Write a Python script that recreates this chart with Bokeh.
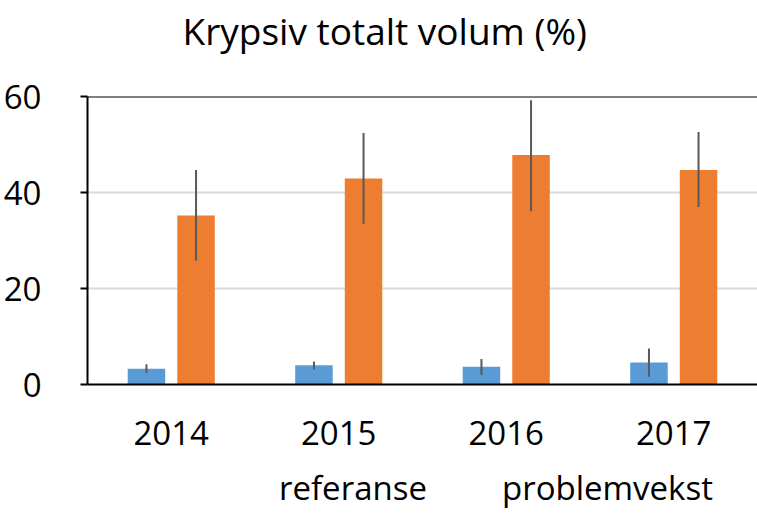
from bokeh.plotting import figure
from bokeh.layouts import column
from bokeh.models import (ColumnDataSource, FactorRange, Range1d, Legend, LegendItem, Span,
                          FixedTicker, CategoricalAxis)
from bokeh.transform import dodge
from bokeh.embed import file_html
from bokeh.resources import INLINE

years = ["2014", "2015", "2016", "2017"]
ref = [3.3, 4.0, 3.7, 4.6]
ref_lo = [2.45, 3.1, 2.0, 1.6]
ref_hi = [4.2, 4.8, 5.3, 7.5]
prob = [35.2, 42.9, 47.8, 44.7]
prob_lo = [25.8, 33.5, 36.1, 37.0]
prob_hi = [44.7, 52.4, 59.2, 52.6]
y_ticks = [0, 20, 40, 60]
series = ["referanse", "problemvekst"]
colors = ["#5B9BD5", "#ED7D31"]

FONT = "Open Sans"
FS = "33px"
src = ColumnDataSource(dict(years=years, ref=ref, ref_lo=ref_lo, ref_hi=ref_hi,
                            prob=prob, prob_lo=prob_lo, prob_hi=prob_hi))

p = figure(frame_width=670, frame_height=288, output_backend="svg", toolbar_location=None,
           x_range=FactorRange(*years, range_padding=0), y_range=Range1d(0, 60),
           min_border_left=87, min_border_right=0, min_border_top=96, min_border_bottom=86)
p.outline_line_color = None

# invisible spacer between plot area and title
spacer = CategoricalAxis(axis_line_color=None, major_tick_out=41, major_tick_in=0,
                         major_tick_line_color=None, minor_tick_line_color=None,
                         major_label_standoff=0, major_label_text_font_size="1px",
                         major_label_text_color=None, major_label_text_alpha=0,
                         major_label_overrides={y: "" for y in years})
p.add_layout(spacer, "above")

p.title.text = "Krypsiv totalt volum (%)"
p.title.text_font = FONT
p.title.text_font_size = "37px"
p.title.text_font_style = "normal"
p.title.text_color = "black"
p.title.align = "left"
p.title.offset = 95
p.title.standoff = 0

off = 0.148
bw = 0.224
p.vbar(x=dodge("years", -off, range=p.x_range), top="ref", width=bw, source=src,
       fill_color=colors[0], line_color=None)
p.vbar(x=dodge("years", off, range=p.x_range), top="prob", width=bw, source=src,
       fill_color=colors[1], line_color=None)
p.segment(x0=dodge("years", -off, range=p.x_range), x1=dodge("years", -off, range=p.x_range),
          y0="ref_lo", y1="ref_hi", source=src, line_color="#595959", line_width=2)
p.segment(x0=dodge("years", off, range=p.x_range), x1=dodge("years", off, range=p.x_range),
          y0="prob_lo", y1="prob_hi", source=src, line_color="#595959", line_width=2)

p.add_layout(Span(location=y_ticks[-1], dimension="width", line_color="black", line_width=2))

p.xgrid.grid_line_color = None
p.ygrid.grid_line_color = "#D9D9D9"
p.ygrid.grid_line_width = 2
p.yaxis.ticker = FixedTicker(ticks=y_ticks)
p.yaxis.axis_line_color = "black"
p.yaxis.axis_line_width = 2
p.yaxis.major_tick_line_color = "black"
p.yaxis.major_tick_line_width = 2
p.yaxis.major_tick_out = 7
p.yaxis.major_tick_in = 0
p.yaxis.minor_tick_line_color = None
p.yaxis.major_label_standoff = 39
p.yaxis.major_label_text_font = FONT
p.yaxis.major_label_text_font_size = FS
p.yaxis.major_label_text_color = "black"

xax = p.below[0]
xax.axis_line_color = "black"
xax.axis_line_width = 2
xax.major_tick_line_color = None
xax.major_tick_out = 0
xax.major_tick_in = 0
xax.minor_tick_line_color = None
xax.axis_label = None
xax.axis_label_standoff = 0
xax.major_label_standoff = 36
xax.major_label_text_font = FONT
xax.major_label_text_font_size = FS
xax.major_label_text_color = "black"

# legend strip below the chart
pl = figure(width=757, height=47, output_backend="svg", toolbar_location=None,
            x_range=Range1d(0, 1), y_range=Range1d(0, 1), x_axis_type=None, y_axis_type=None,
            min_border_left=0, min_border_right=0, min_border_top=0, min_border_bottom=0)
pl.outline_line_color = None
pl.xgrid.grid_line_color = None
pl.ygrid.grid_line_color = None
items = []
for name, col in zip(series, colors):
    r = pl.vbar(x=[], top=[], width=0.1, fill_color=col, line_color=None)
    items.append(LegendItem(label=name, renderers=[r]))
legend = Legend(items=items, orientation="horizontal", location=(157, 7))
legend.border_line_color = None
legend.background_fill_alpha = 0
legend.margin = 0
legend.padding = 0
legend.glyph_width = 22
legend.glyph_height = 22
legend.label_height = 22
legend.label_standoff = 13
legend.spacing = 40
legend.label_text_font = FONT
legend.label_text_font_size = FS
legend.label_text_color = "black"
pl.add_layout(legend, "center")

layout = column(p, pl, spacing=0)
open("out.html", "w").write(file_html(layout, INLINE))
